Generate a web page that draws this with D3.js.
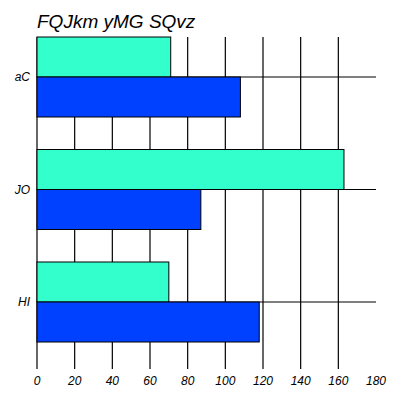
<!DOCTYPE html><html><head><script src="https://cdn.jsdelivr.net/npm/d3@7"></script>
<style>body{margin:0;background:#fff}text{font-family:"Liberation Sans",Arial,sans-serif;font-style:italic}</style></head><body>
<svg id="c" width="402" height="402"></svg>
<script>
const categories=["aC","JO","HI"];
const seriesTeal=[71,163,70];
const seriesBlue=[108,87,118];
const ticks=[0,20,40,60,80,100,120,140,160,180];
const svg=d3.select("#c");
const x=d3.scaleLinear().domain([0,180]).range([37,376]);
const y=d3.scalePoint().domain(categories).range([77,302]);
const bh=40;
// vertical grid
svg.selectAll(".vg").data(ticks.slice(0,-1)).enter().append("line")
 .attr("x1",d=>x(d)).attr("x2",d=>x(d)).attr("y1",37).attr("y2",369).attr("stroke","#000").attr("stroke-width",1.2);
svg.selectAll(".hg").data(categories).enter().append("line")
 .attr("x1",37).attr("x2",376).attr("y1",d=>y(d)).attr("y2",d=>y(d)).attr("stroke","#000").attr("stroke-width",1.2);
svg.selectAll(".t").data(categories).enter().append("rect")
 .attr("x",x(0)).attr("y",d=>y(d)-bh).attr("width",(d,i)=>x(seriesTeal[i])-x(0)).attr("height",bh)
 .attr("fill","#33ffcc").attr("stroke","#000").attr("stroke-width",1);
svg.selectAll(".b").data(categories).enter().append("rect")
 .attr("x",x(0)).attr("y",d=>y(d)).attr("width",(d,i)=>x(seriesBlue[i])-x(0)).attr("height",bh)
 .attr("fill","#0040ff").attr("stroke","#000").attr("stroke-width",1);
svg.selectAll(".xl").data(ticks).enter().append("text")
 .attr("x",d=>x(d)).attr("y",385).attr("text-anchor","middle").attr("font-size",12).text(d=>d);
svg.selectAll(".yl").data(categories).enter().append("text")
 .attr("x",30).attr("y",d=>y(d)+4).attr("text-anchor","end").attr("font-size",12).text(d=>d);
svg.append("text").attr("x",37).attr("y",28).attr("font-size",19).text("FQJkm yMG SQvz");
</script></body></html>
